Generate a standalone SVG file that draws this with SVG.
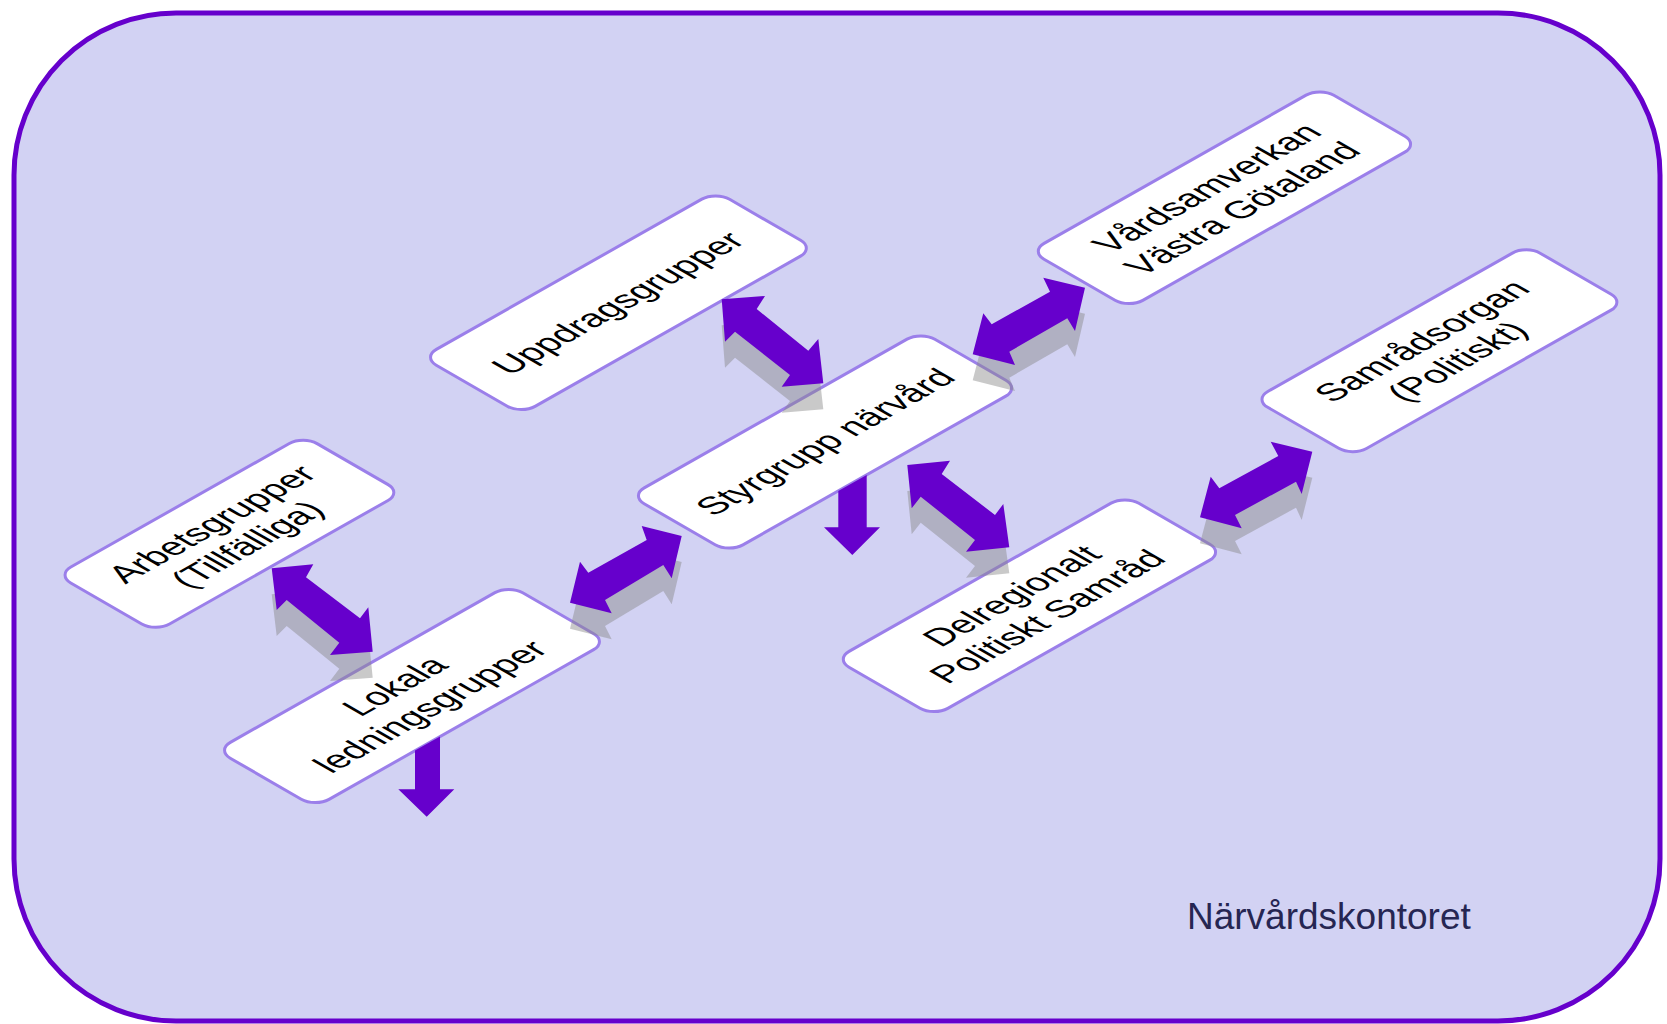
<svg xmlns="http://www.w3.org/2000/svg" width="1667" height="1024" viewBox="0 0 1667 1024">
<defs>
<style>
.bg{fill:#D2D2F3;stroke:#6600CC;stroke-width:5}
.box{fill:#FFFFFF;stroke:#9B7FEA;stroke-width:3}
.lbl{font-family:"Liberation Sans",Arial,sans-serif;font-size:35px;fill:#000000;text-anchor:middle}
.arr{fill:#6600CC}
.shd{fill:#888888;fill-opacity:0.45}
.title{font-family:"Liberation Sans",Arial,sans-serif;font-size:37px;fill:#262652}
</style>
</defs>
<rect class="bg" x="14" y="13" width="1646" height="1008" rx="162" ry="162"/>
<g id="nodes">
<g id="n-uppdrag" transform="matrix(0.8704,-0.4924,0.866,0.5,618,303)">
<rect class="box" x="-168" y="-57" width="337" height="114" rx="16" vector-effect="non-scaling-stroke"/>
<text class="lbl" x="0" y="12">Uppdragsgrupper</text>
</g>
<g id="n-vards" transform="matrix(0.8704,-0.4924,0.866,0.5,1224,198)">
<rect class="box" x="-166" y="-57" width="333" height="114" rx="16" vector-effect="non-scaling-stroke"/>
<text class="lbl" x="0" y="-8">Vårdsamverkan</text>
<text class="lbl" x="0" y="33">Västra Götaland</text>
</g>
<g id="n-styr" transform="matrix(0.8704,-0.4924,0.866,0.5,825,442)">
<rect class="box" x="-167" y="-57" width="334" height="114" rx="16" vector-effect="non-scaling-stroke"/>
<text class="lbl" x="0" y="12">Styrgrupp närvård</text>
</g>
<g id="n-samrad" transform="matrix(0.8704,-0.4924,0.866,0.5,1439,351)">
<rect class="box" x="-156" y="-57" width="313" height="114" rx="16" vector-effect="non-scaling-stroke"/>
<text class="lbl" x="0" y="-8">Samrådsorgan</text>
<text class="lbl" x="0" y="33">(Politiskt)</text>
</g>
<g id="n-arbets" transform="matrix(0.8704,-0.4924,0.866,0.5,229,534)">
<rect class="box" x="-141" y="-57" width="283" height="114" rx="16" vector-effect="non-scaling-stroke"/>
<text class="lbl" x="0" y="-8">Arbetsgrupper</text>
<text class="lbl" x="0" y="33">(Tillfälliga)</text>
</g>
<g id="n-lokala" transform="matrix(0.8704,-0.4924,0.866,0.5,412,696)">
<rect class="box" x="-168" y="-57" width="336" height="114" rx="16" vector-effect="non-scaling-stroke"/>
<text class="lbl" x="0" y="-8">Lokala</text>
<text class="lbl" x="0" y="33">ledningsgrupper</text>
</g>
<g id="n-delreg" transform="matrix(0.8704,-0.4924,0.866,0.5,1029,606)">
<rect class="box" x="-166" y="-57" width="333" height="114" rx="16" vector-effect="non-scaling-stroke"/>
<text class="lbl" x="0" y="-8">Delregionalt</text>
<text class="lbl" x="0" y="33">Politiskt Samråd</text>
</g>
</g>
<g id="connectors">
<g id="c-uppdrag-styr">
<polygon class="shd" transform="translate(0,26)" points="721.7,299.3 765,296 756.7,309 808.3,350.7 818.3,339 823.3,383.3 781.7,386.7 790,375 735,331.7 725,341.7"/>
<polygon class="arr" points="721.7,299.3 765,296 756.7,309 808.3,350.7 818.3,339 823.3,383.3 781.7,386.7 790,375 735,331.7 725,341.7"/>
</g>
<g id="c-styr-vards">
<polygon class="shd" transform="translate(0,26)" points="972.7,354.3 983.3,313.3 991.7,324.3 1050,291.7 1043.3,277.7 1085,287.7 1075,331 1067.3,318.3 1009.3,351.7 1015,365"/>
<polygon class="arr" points="972.7,354.3 983.3,313.3 991.7,324.3 1050,291.7 1043.3,277.7 1085,287.7 1075,331 1067.3,318.3 1009.3,351.7 1015,365"/>
</g>
<g id="c-lokala-styr">
<polygon class="shd" transform="translate(0,26)" points="570,602.7 580,561.7 588.3,572.7 646.7,540 641.7,526 681.7,536 671.7,578.3 663.3,565 605,600 611.7,613.3"/>
<polygon class="arr" points="570,602.7 580,561.7 588.3,572.7 646.7,540 641.7,526 681.7,536 671.7,578.3 663.3,565 605,600 611.7,613.3"/>
</g>
<g id="c-arbets-lokala">
<polygon class="shd" transform="translate(0,26)" points="271.7,568.3 313.3,564.3 306,577.3 360,618.3 368.3,607.3 372.7,651.7 330,655 339.3,642.7 286.7,600 276.7,610"/>
<polygon class="arr" points="271.7,568.3 313.3,564.3 306,577.3 360,618.3 368.3,607.3 372.7,651.7 330,655 339.3,642.7 286.7,600 276.7,610"/>
</g>
<g id="c-styr-delreg">
<polygon class="shd" transform="translate(0,26)" points="907.3,465 950,460.7 941.7,474 995,515 1003.3,504 1009.3,547.3 966,551.7 975,540 920.7,496.7 911.7,508.3"/>
<polygon class="arr" points="907.3,465 950,460.7 941.7,474 995,515 1003.3,504 1009.3,547.3 966,551.7 975,540 920.7,496.7 911.7,508.3"/>
</g>
<g id="c-delreg-samrad">
<polygon class="shd" transform="translate(0,26)" points="1200,517.3 1210.7,476.7 1219.3,488.3 1278.3,456 1270.7,441.7 1312.3,451.7 1301.7,494 1296,481.7 1235,515 1241.7,528.3"/>
<polygon class="arr" points="1200,517.3 1210.7,476.7 1219.3,488.3 1278.3,456 1270.7,441.7 1312.3,451.7 1301.7,494 1296,481.7 1235,515 1241.7,528.3"/>
</g>
<polygon id="c-styr-down" class="arr" points="838.3,491 866.7,475 866.7,527.3 880,527.3 852.3,555 824,527.3 838.3,527.3"/>
<polygon id="c-lokala-down" class="arr" points="415,750.5 440,736.5 440,789.3 454.3,789.3 426.7,816.7 398.3,789.3 415,789.3"/>
</g>
<text class="title" x="1187" y="929">Närvårdskontoret</text>
</svg>
